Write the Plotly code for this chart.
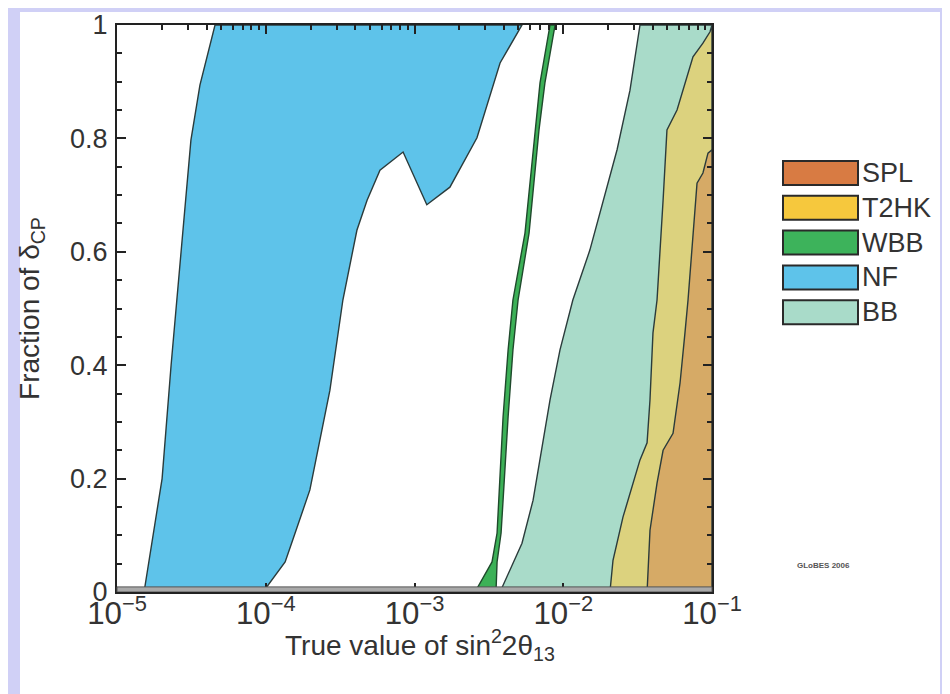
import plotly.graph_objects as go

# ---------------- data ----------------
X_MAX = 0.1

# NF (blue) region: left and right boundaries, bottom -> top
nf_left_x = [1.52e-5, 2.01e-5, 2.31e-5, 2.53e-5, 3.14e-5, 3.61e-5, 4.56e-5]
nf_left_y = [0.0, 0.2, 0.4, 0.515, 0.797, 0.894, 1.0]
nf_right_x = [9.59e-5, 1.35e-4, 1.52e-4, 1.98e-4, 2.70e-4, 3.30e-4, 4.10e-4,
              4.80e-4, 5.86e-4, 8.38e-4, 1.21e-3, 1.73e-3, 2.63e-3, 3.76e-3, 5.28e-3]
nf_right_y = [0.0, 0.053, 0.092, 0.180, 0.356, 0.515, 0.638,
              0.691, 0.744, 0.776, 0.683, 0.714, 0.801, 0.933, 1.0]

# WBB (green) thin band
wbb_y = [0.0, 0.053, 0.104, 0.309, 0.427, 0.515, 0.633, 0.815, 0.898, 1.0]
wbb_left_x = [2.55e-3, 3.32e-3, 3.59e-3, 3.94e-3, 4.26e-3, 4.59e-3, 5.53e-3, 6.46e-3, 6.98e-3, 8.15e-3]
wbb_right_x = [3.53e-3, 3.59e-3, 3.82e-3, 4.26e-3, 4.59e-3, 4.97e-3, 5.89e-3, 6.87e-3, 7.53e-3, 8.81e-3]

# BB (light teal) left boundary
bb_left_x = [3.76e-3, 5.28e-3, 6.27e-3, 8.15e-3, 9.51e-3, 1.16e-2, 1.51e-2, 2.30e-2, 2.81e-2, 3.28e-2]
bb_left_y = [0.0, 0.086, 0.162, 0.339, 0.427, 0.515, 0.603, 0.780, 0.885, 1.0]

# T2HK (yellow) left boundary
t2hk_left_x = [2.06e-2, 2.16e-2, 2.52e-2, 3.28e-2, 3.66e-2, 3.83e-2, 4.01e-2, 4.27e-2,
               4.69e-2, 4.98e-2, 5.82e-2, 6.38e-2, 7.45e-2, 8.69e-2, 9.70e-2, 0.1]
t2hk_left_y = [0.0, 0.056, 0.132, 0.233, 0.263, 0.339, 0.457, 0.515,
               0.691, 0.815, 0.850, 0.885, 0.944, 0.968, 0.988, 1.0]

# SPL (orange) left boundary
spl_left_x = [3.66e-2, 3.83e-2, 4.27e-2, 4.69e-2, 5.47e-2, 6.10e-2, 6.58e-2, 6.90e-2,
              7.93e-2, 8.69e-2, 9.40e-2, 0.1]
spl_left_y = [0.0, 0.109, 0.192, 0.250, 0.280, 0.369, 0.457, 0.515,
              0.721, 0.739, 0.774, 0.780]

legend_names = ["SPL", "T2HK", "WBB", "NF", "BB"]
legend_colors = ["#d87b43", "#f6c83d", "#3db35b", "#5ec3ea", "#a9dbc9"]

x_title = "True value of sin<sup>2</sup>2θ<sub>13</sub>"
y_title = "Fraction of δ<sub>CP</sub>"

# ---------------- styles ----------------
EDGE = "#2b3b3b"
FONT = "Liberation Sans, Arial, sans-serif"
TXT = "#333333"

fig = go.Figure()


def add_region(xs, ys, fill, edge=EDGE, name=""):
    fig.add_trace(go.Scatter(
        x=xs, y=ys, mode="lines", fill="toself", fillcolor=fill,
        line=dict(color=edge, width=1.4), showlegend=False, name=name,
        hoverinfo="skip"))


# BB region extends to right edge
add_region(bb_left_x + [X_MAX, X_MAX], bb_left_y + [1.0, 0.0], "#a9dbc9", name="BB")
# T2HK on top (blended look)
add_region(t2hk_left_x + [X_MAX], t2hk_left_y + [0.0], "#dcd27e", name="T2HK")
# SPL on top
add_region(spl_left_x + [X_MAX], spl_left_y + [0.0], "#d6aa66", name="SPL")
# NF region
add_region(nf_left_x + nf_right_x[::-1], nf_left_y + nf_right_y[::-1], "#5ec3ea", name="NF")
# WBB band
add_region(wbb_left_x + wbb_right_x[::-1], wbb_y + wbb_y[::-1], "#3cb157",
           edge="#1f4a2c", name="WBB")

# ---------------- layout geometry ----------------
# page body has an 8px margin, so screen positions are offset by 8px
OFF = 8
W, H = 950, 694
SX0, SX1, SY0, SY1 = 117, 712, 25, 592  # plot area on screen
L, T = SX0 - OFF, SY0 - OFF
R, B = W - (SX1 - OFF), H - (SY1 - OFF)
pw, ph = SX1 - SX0, SY1 - SY0


def px_x(p):
    return (p - SX0) / pw


def px_y(p):
    return (SY1 - p) / ph


shapes = [
    # white panel on lavender background
    dict(type="rect", xref="paper", yref="paper",
         x0=px_x(20), x1=px_x(940), y0=px_y(H + 20), y1=px_y(12),
         fillcolor="white", line=dict(width=0), layer="below"),
    # grey strip along the bottom axis
    dict(type="rect", xref="x domain", yref="y", x0=0, x1=1, y0=0, y1=0.009,
         fillcolor="#a9a9a9", line=dict(color="#555555", width=1), layer="above"),
]
annotations = []

# manual legend
sw_x0, sw_x1 = px_x(783), px_x(858)
for i, (nm, col) in enumerate(zip(legend_names, legend_colors)):
    cy = 173 + i * 34.8
    shapes.append(dict(type="rect", xref="paper", yref="paper",
                       x0=sw_x0, x1=sw_x1, y0=px_y(cy + 12), y1=px_y(cy - 12),
                       fillcolor=col, line=dict(color="#2a2a2a", width=2)))
    annotations.append(dict(xref="paper", yref="paper", x=px_x(860), y=px_y(cy),
                            text=nm, showarrow=False, xanchor="left", yanchor="middle",
                            font=dict(family=FONT, size=27, color=TXT)))

annotations.append(dict(xref="paper", yref="paper", x=px_x(852), y=px_y(572),
                        text="<b>GLoBES 2006</b>", showarrow=False,
                        font=dict(family=FONT, size=8, color="#555555")))

# x-axis title
annotations.append(dict(xref="paper", yref="paper", x=px_x(420), y=px_y(645),
                        text=x_title, showarrow=False, xanchor="center", yanchor="middle",
                        font=dict(family=FONT, size=28, color=TXT)))

fig.update_layout(
    width=W, height=H,
    autosize=False,
    margin=dict(l=L, r=R, t=T, b=B, pad=0, autoexpand=False),
    paper_bgcolor="#d0d0f6",
    plot_bgcolor="white",
    showlegend=False,
    shapes=shapes,
    annotations=annotations,
    font=dict(family=FONT, color=TXT),
)

fig.update_xaxes(
    type="log", range=[-5, -1], dtick=1, exponentformat="power",
    automargin=False,
    showline=True, linecolor="#222222", linewidth=2, mirror="allticks",
    ticks="inside", ticklen=9, tickwidth=1.5, tickcolor="#222222",
    showgrid=False, zeroline=False,
    minor=dict(ticks="inside", ticklen=5, tickcolor="#222222", dtick="D1", showgrid=False),
    tickfont=dict(family=FONT, size=25, color=TXT),
    ticklabelstandoff=-6,
)
fig.update_yaxes(
    range=[0, 1], dtick=0.2,
    automargin=False,
    showline=True, linecolor="#222222", linewidth=2, mirror="allticks",
    ticks="inside", ticklen=9, tickwidth=1.5, tickcolor="#222222",
    showgrid=False, zeroline=False,
    minor=dict(ticks="inside", ticklen=5, tickcolor="#222222", dtick=0.05, showgrid=False),
    tickfont=dict(family=FONT, size=27, color=TXT),
    ticklabelstandoff=2,
    title=dict(text=y_title, font=dict(family=FONT, size=28, color=TXT), standoff=22),
)

fig.write_html("out.html")
